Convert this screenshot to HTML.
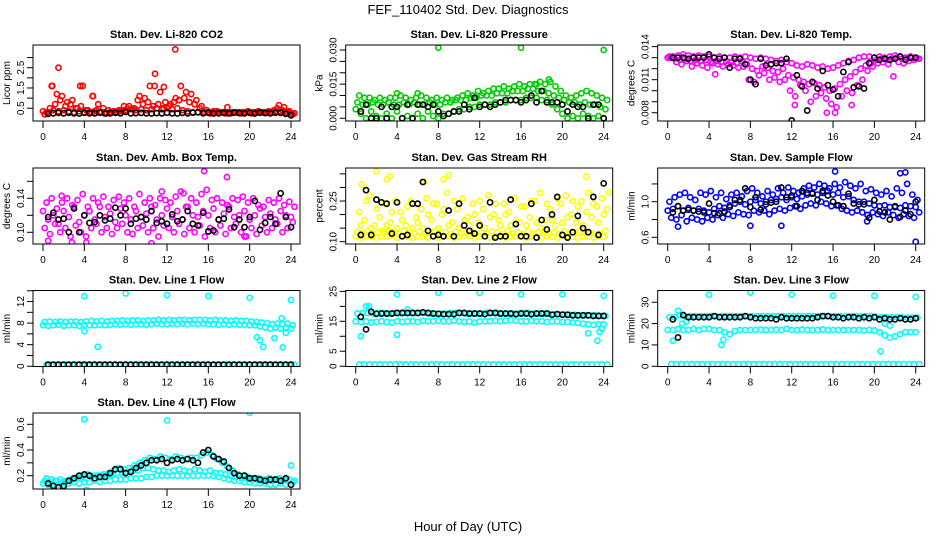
<!DOCTYPE html>
<html><head><meta charset="utf-8">
<style>
html,body{margin:0;padding:0;background:#fff;}
svg{display:block;font-family:"Liberation Sans",sans-serif;}
</style></head>
<body>
<svg id="c" width="936" height="540" viewBox="0 0 936 540">
<text x="468" y="14" text-anchor="middle" font-size="13">FEF_110402  Std. Dev. Diagnostics</text>
<text x="468" y="531" text-anchor="middle" font-size="13">Hour of Day (UTC)</text>
</svg>
<script>
const xTicks=[0,4,8,12,16,20,24];
const co2A=[0.35,0.3,0.4,0.35,0.4,0.35,0.3,0.35,0.3,0.3,0.35,0.3,0.3,0.3,0.3,0.35,0.4,0.45,0.4,0.45,0.4,0.45,0.5,0.45,0.5,0.45,0.5,0.4,0.35,0.3,0.3,0.3,0.3,0.35,0.3,0.3,0.3,0.3,0.3,0.3,0.3,0.3,0.3,0.3,0.3,0.35,0.35,0.3,0.25];
const co2B=[0.2,0.5,0.7,0.9,0.6,0.7,0.5,0.6,0.4,0.3,0.4,0.3,0.25,0.3,0.3,0.4,0.5,0.45,0.9,0.7,0.8,0.6,0.7,0.5,0.6,0.8,0.9,1.0,0.8,0.7,0.5,0.3,0.25,0.3,0.3,0.25,0.25,0.3,0.25,0.3,0.25,0.3,0.3,0.3,0.3,0.5,0.4,0.3,0.2];
const co2C=[0.3,1.6,1.2,1.1,0.8,0.9,0.5,1.6,0.4,1.1,0.7,0.5,0.4,0.35,0.4,0.6,0.6,0.5,1.1,1.0,1.6,2.2,1.3,0.8,0.7,1.0,1.6,1.3,1.2,0.9,0.6,0.4,0.3,0.35,0.3,0.55,0.3,0.3,0.3,0.35,0.3,0.35,0.3,0.35,0.4,0.65,0.55,0.35,0.25];
const co2OutX=[1.5,12.8,0.9,3.6,4.8,10.8,11.7];
const co2OutY=[2.5,3.4,1.6,1.6,1.1,1.6,1.55];
const co2Black=[0.22,0.25,0.27,0.25,0.28,0.25,0.24,0.27,0.25,0.25,0.28,0.24,0.25,0.27,0.25,0.32,0.25,0.26,0.27,0.25,0.24,0.26,0.25,0.28,0.25,0.24,0.27,0.25,0.28,0.3,0.25,0.28,0.24,0.25,0.27,0.25,0.28,0.26,0.25,0.28,0.24,0.28,0.26,0.25,0.28,0.27,0.22,0.15];

const prA=[0.004,0.002,0,0.003,0.001,0,0.002,0,0.003,0,0.001,0,0.002,0,0.003,0.001,0,0.002,0.002,0.003,0.004,0.004,0.005,0.005,0.006,0.006,0.006,0.007,0.007,0.007,0.008,0.008,0.008,0.009,0.009,0.009,0.008,0.008,0.006,0.004,0.002,0,0.001,0,0.002,0.001,0,0.001,0];
const prB=[0.007,0.006,0.006,0.007,0.006,0.006,0.007,0.006,0.006,0.007,0.006,0.007,0.006,0.006,0.007,0.006,0.006,0.007,0.007,0.008,0.008,0.008,0.009,0.009,0.01,0.01,0.01,0.011,0.011,0.011,0.012,0.012,0.012,0.013,0.013,0.012,0.012,0.011,0.01,0.009,0.008,0.007,0.007,0.006,0.007,0.006,0.006,0.005,0.004];
const prC=[0.01,0.009,0.009,0.008,0.009,0.008,0.009,0.009,0.01,0.009,0.008,0.009,0.01,0.009,0.008,0.009,0.008,0.009,0.008,0.009,0.01,0.011,0.01,0.012,0.011,0.012,0.013,0.013,0.014,0.013,0.014,0.015,0.014,0.015,0.015,0.016,0.015,0.016,0.014,0.012,0.01,0.009,0.01,0.011,0.012,0.011,0.01,0.009,0.008];
const prOutX=[8,16,24,18.7,17.5,4,6];
const prOutY=[0.031,0.031,0.030,0.017,0.015,0.011,0.011];
const prBlack=[0.003,0.006,0,0,0.005,0,0.005,0.005,0,0.006,0,0.006,0.006,0.005,0.006,0.003,0.001,0.002,0.003,0.003,0.006,0.004,0.009,0.005,0.006,0.005,0.006,0.007,0.008,0.008,0.008,0.007,0.008,0.01,0.007,0.012,0.007,0.007,0.007,0.006,0.003,0.006,0.005,0.005,0,0.006,0.006,0];

const tpA=[0.013,0.0131,0.0132,0.0133,0.0132,0.0131,0.0132,0.0131,0.0131,0.013,0.0131,0.013,0.013,0.0131,0.013,0.0131,0.013,0.0129,0.013,0.0129,0.0128,0.0127,0.0128,0.0126,0.0125,0.0123,0.0122,0.0124,0.0123,0.0121,0.0122,0.012,0.0121,0.0123,0.0125,0.0127,0.0128,0.013,0.0131,0.0131,0.013,0.0131,0.013,0.0131,0.0132,0.0131,0.013,0.0131,0.013];
const tpB=[0.0131,0.0129,0.0128,0.0129,0.0127,0.0128,0.0127,0.0128,0.0126,0.0127,0.0126,0.0127,0.0126,0.0125,0.0127,0.0124,0.012,0.0118,0.0122,0.0121,0.0118,0.0117,0.012,0.0114,0.0112,0.011,0.0108,0.0106,0.0107,0.0105,0.0103,0.01,0.0102,0.0106,0.011,0.0113,0.0117,0.012,0.0123,0.0125,0.0128,0.0129,0.0128,0.0129,0.013,0.0129,0.0129,0.013,0.0129];
const tpC=[0.013,0.0126,0.0124,0.0127,0.0122,0.0125,0.0123,0.0121,0.0125,0.0124,0.0122,0.0124,0.0123,0.0121,0.0122,0.011,0.0108,0.0114,0.0116,0.011,0.0112,0.0108,0.011,0.01,0.0095,0.0105,0.01,0.009,0.0095,0.0098,0.0093,0.0088,0.0085,0.0095,0.01,0.0098,0.0105,0.011,0.0118,0.0122,0.0125,0.0126,0.0124,0.0113,0.0126,0.0125,0.0127,0.0128,0.0129];
const tpOutX=[15.4,16.2,12.3,17.8,4.6];
const tpOutY=[0.008,0.008,0.0087,0.0087,0.0115];
const tpBlack=[0.013,0.013,0.013,0.0129,0.013,0.013,0.013,0.0133,0.013,0.0129,0.013,0.0121,0.0129,0.0129,0.0124,0.011,0.0106,0.0129,0.0123,0.0124,0.0125,0.0125,0.0129,0.0073,0.0114,0.0104,0.0082,0.0108,0.0102,0.0118,0.0105,0.0101,0.0095,0.0117,0.0126,0.0103,0.0104,0.0102,0.0125,0.013,0.0128,0.0129,0.0128,0.0129,0.0131,0.0128,0.013,0.013];

const abA=[0.125,0.115,0.12,0.11,0.125,0.118,0.13,0.112,0.12,0.125,0.115,0.13,0.118,0.122,0.112,0.128,0.12,0.115,0.125,0.118,0.122,0.13,0.115,0.12,0.128,0.118,0.125,0.115,0.13,0.12,0.118,0.125,0.12,0.128,0.115,0.122,0.13,0.118,0.12,0.125,0.115,0.12,0.128,0.118,0.122,0.115,0.125,0.12,0.118];
const abB=[0.105,0.098,0.11,0.1,0.105,0.095,0.108,0.1,0.095,0.105,0.11,0.1,0.105,0.098,0.105,0.11,0.1,0.098,0.105,0.108,0.1,0.105,0.095,0.108,0.105,0.1,0.11,0.098,0.105,0.1,0.108,0.095,0.105,0.1,0.108,0.098,0.105,0.11,0.1,0.095,0.105,0.098,0.108,0.1,0.105,0.11,0.1,0.105,0.112];
const abC=[0.135,0.14,0.128,0.135,0.14,0.132,0.138,0.145,0.13,0.14,0.135,0.142,0.13,0.138,0.142,0.135,0.14,0.13,0.145,0.135,0.14,0.132,0.14,0.138,0.135,0.142,0.148,0.13,0.14,0.135,0.145,0.15,0.138,0.14,0.135,0.132,0.14,0.138,0.142,0.135,0.14,0.132,0.13,0.138,0.135,0.14,0.132,0.136,0.13];
const abOutX=[15.6,17.8,1.8,11.5,13.6,0.5,2.8,10.5,4.2,19.5];
const abOutY=[0.172,0.165,0.143,0.148,0.146,0.09,0.088,0.087,0.088,0.095];
const abBlack=[0.118,0.123,0.115,0.116,0.1,0.128,0.1,0.12,0.111,0.112,0.12,0.114,0.116,0.129,0.12,0.128,0.11,0.116,0.118,0.115,0.125,0.111,0.113,0.11,0.121,0.113,0.115,0.125,0.11,0.108,0.123,0.101,0.102,0.115,0.116,0.127,0.106,0.115,0.106,0.118,0.137,0.103,0.111,0.118,0.11,0.146,0.118,0.106];

const rhA=[0.12,0.115,0.12,0.118,0.115,0.12,0.118,0.122,0.115,0.12,0.118,0.115,0.12,0.118,0.115,0.122,0.115,0.118,0.12,0.115,0.118,0.122,0.12,0.115,0.118,0.12,0.115,0.12,0.118,0.115,0.12,0.118,0.122,0.115,0.12,0.118,0.115,0.12,0.118,0.115,0.122,0.12,0.118,0.115,0.12,0.118,0.115,0.12,0.118];
const rhB=[0.135,0.13,0.14,0.128,0.135,0.13,0.14,0.135,0.128,0.14,0.135,0.13,0.138,0.128,0.135,0.14,0.13,0.135,0.128,0.138,0.13,0.135,0.14,0.128,0.135,0.13,0.138,0.135,0.128,0.14,0.13,0.135,0.128,0.138,0.13,0.135,0.14,0.13,0.135,0.128,0.138,0.13,0.135,0.14,0.13,0.135,0.128,0.13,0.14];
const rhC=[0.21,0.18,0.27,0.16,0.19,0.24,0.17,0.25,0.21,0.16,0.25,0.19,0.22,0.26,0.18,0.24,0.2,0.28,0.17,0.22,0.26,0.19,0.24,0.17,0.22,0.27,0.2,0.18,0.24,0.21,0.26,0.17,0.23,0.19,0.25,0.28,0.18,0.22,0.16,0.24,0.27,0.2,0.17,0.25,0.21,0.19,0.23,0.26,0.22];
const rhD=[0.16,0.25,0.15,0.22,0.14,0.16,0.21,0.15,0.18,0.23,0.15,0.17,0.15,0.2,0.24,0.15,0.22,0.16,0.25,0.15,0.18,0.16,0.2,0.25,0.15,0.19,0.24,0.16,0.2,0.16,0.18,0.23,0.16,0.25,0.17,0.15,0.24,0.18,0.26,0.17,0.19,0.25,0.23,0.16,0.28,0.24,0.17,0.2,0.28];
const rhOutX=[2,3.3,9,22.3,0.6,6.6,3,8.5];
const rhOutY=[0.36,0.34,0.345,0.34,0.31,0.32,0.33,0.33];
const rhBlack=[0.125,0.29,0.125,0.255,0.245,0.24,0.13,0.245,0.12,0.125,0.24,0.24,0.32,0.14,0.12,0.125,0.12,0.215,0.12,0.24,0.16,0.14,0.13,0.16,0.12,0.245,0.115,0.12,0.12,0.255,0.165,0.12,0.12,0.24,0.115,0.18,0.145,0.2,0.265,0.125,0.115,0.135,0.195,0.15,0.135,0.265,0.125,0.315];

const sfA=[0.9,0.92,0.95,0.9,0.93,0.9,0.92,0.9,0.88,0.92,0.95,0.93,0.96,0.98,1,0.97,1,1.02,0.98,1,1.02,1.03,1.05,1.02,1.05,1.03,1.06,1.08,1.1,1.08,1.1,1.12,1.08,1.1,1.05,1.06,1.02,1,1,0.98,0.96,0.95,0.96,0.94,0.95,0.93,0.96,0.95,0.94];
const sfB=[1,1.05,1.08,1.1,1.05,1.02,1.1,1.08,1.12,1.05,1.1,1.03,1.08,1.1,1.06,1.12,1.15,1.1,1.06,1.12,1.08,1.15,1.1,1.16,1.12,1.1,1.15,1.18,1.16,1.2,1.18,1.15,1.2,1.16,1.22,1.18,1.15,1.2,1.12,1.14,1.1,1.08,1.12,1.06,1.15,1.1,1.2,1.08,1.02];
const sfC=[0.82,0.8,0.85,0.78,0.82,0.8,0.78,0.82,0.8,0.85,0.82,0.86,0.84,0.88,0.86,0.85,0.9,0.88,0.9,0.86,0.9,0.92,0.9,0.93,0.95,0.92,0.96,0.98,0.96,1,0.98,0.95,0.96,0.92,0.9,0.88,0.9,0.88,0.85,0.88,0.86,0.84,0.88,0.85,0.82,0.86,0.84,0.82,0.88];
const sfOutX=[24,16.2,22.5,23,1,8,11,19.3];
const sfOutY=[0.55,1.34,1.32,1.33,0.72,0.73,0.73,0.78];
const sfBlack=[0.88,0.95,0.9,0.91,0.9,0.89,0.88,0.98,0.87,0.87,0.89,0.94,1.02,1.02,1.15,0.94,1.05,0.91,0.97,0.99,1,1.16,1.05,1.07,0.95,1.12,1.1,1.09,1.02,1.12,1.07,1,0.96,0.95,1.09,0.98,0.97,0.97,0.82,1.02,0.89,0.88,0.8,0.94,0.83,0.9,0.86,1];

const l1A=[7.6,7.5,7.6,7.7,7.5,7.6,7.6,7.5,7.7,7.6,7.6,7.7,7.6,7.7,7.8,7.7,7.8,7.7,7.8,7.8,7.7,7.8,7.9,7.8,7.8,7.9,7.8,7.9,7.8,7.9,7.8,7.9,7.8,7.8,7.7,7.8,7.7,7.8,7.7,7.7,7.6,7.6,7.4,7.2,7,7.2,7,7.2,7];
const l1B=[8.2,8.3,8.2,8.3,8.2,8.3,8.3,8.2,8.3,8.4,8.3,8.4,8.3,8.4,8.4,8.5,8.4,8.5,8.5,8.4,8.5,8.5,8.6,8.5,8.6,8.5,8.6,8.6,8.5,8.6,8.6,8.6,8.5,8.6,8.5,8.5,8.4,8.5,8.4,8.4,8.3,8.2,8.1,8,7.8,7.9,7.8,7.9,7.6];
const l1Z=[0.3,0.3,0.3,0.3,0.3,0.3,0.3,0.3,0.3,0.3,0.3,0.3,0.3,0.3,0.3,0.3,0.3,0.3,0.3,0.3,0.3,0.3,0.3,0.3,0.3,0.3,0.3,0.3,0.3,0.3,0.3,0.3,0.3,0.3,0.3,0.3,0.3,0.3,0.3,0.3,0.3,0.3,0.3,0.3,0.3,0.3,0.3,0.3,0.3];
const l1OutX=[4,8,12,16,20,24,4,5.3,20.7,21,21.3,22.4,23.1,23.2,23.5];
const l1OutY=[13,13.5,13.2,13,12.7,12.3,6.5,3.6,5.4,4.8,3.6,5.2,8.9,3.5,6.2];
const l1Black=[0.3,0.3,0.3,0.3,0.3,0.3,0.3,0.3,0.3,0.3,0.3,0.3,0.3,0.3,0.3,0.3,0.3,0.3,0.3,0.3,0.3,0.3,0.3,0.3,0.3,0.3,0.3,0.3,0.3,0.3,0.3,0.3,0.3,0.3,0.3,0.3,0.3,0.3,0.3,0.3,0.3,0.3,0.3,0.3,0.3,0.3,0.3,0.3];

const l2A=[15,14.8,15,14.6,14.8,15,14.8,14.6,15,14.8,15,15,14.8,15.2,15,15,15.2,15,15,15.2,15,14.8,15,14.6,15,15,15,15.2,15,15.2,15.4,15.2,15,15,15.2,15,15,14.8,15,15,14.8,14.8,14.6,14.5,14.2,14,13.8,14,14];
const l2B=[17.6,17.8,17.8,17.6,17.8,17.8,17.6,17.8,17.8,17.8,17.8,17.8,17.8,17.8,17.6,17.6,17.6,17.6,17.8,17.8,17.8,17.6,17.6,17.6,17.6,17.8,17.8,17.8,17.6,17.6,17.6,17.6,17.8,17.8,17.6,17.6,17.6,17.6,17.4,17.4,17.4,17.2,17.2,17,17,17,17,16.8,16.8];
const l2Z=[0.6,0.6,0.6,0.6,0.6,0.6,0.6,0.6,0.6,0.6,0.6,0.6,0.6,0.6,0.6,0.6,0.6,0.6,0.6,0.6,0.6,0.6,0.6,0.6,0.6,0.6,0.6,0.6,0.6,0.6,0.6,0.6,0.6,0.6,0.6,0.6,0.6,0.6,0.6,0.6,0.6,0.6,0.6,0.6,0.6,0.6,0.6,0.6,0.6];
const l2OutX=[4,8,12,16,20,24,0.5,4,22.5,23.4,23.6,23.8,1,1.3,5];
const l2OutY=[24,24.5,24.5,24,24,23.5,10,10.5,11,8.5,11.5,12.5,20,20,19];
const l2Black=[16.5,12.3,18.2,17.5,17.6,17.6,17.6,17.8,17.8,17.8,17.8,17.8,18,17.8,17.6,17.5,17.4,17.4,17.4,17.8,17.8,17.6,17.6,17.6,17.4,17.8,17.8,17.6,17.6,17.6,17.4,17.6,17.6,17.4,17.6,17.6,17.6,17.2,17.4,17.2,17.2,17,17,17,17,16.8,16.8,16.8];

const l3A=[17,17,17.5,17,17,17.5,17,17.5,17.5,17,17,16,15,16.5,17,17,17,17,17.2,17,17,17.2,17,17.5,17,17,17.2,17,17,17,17.2,17,17,17,17,17,17,17,16.8,17,16.8,16,14.5,13.5,14,15,16,16,16];
const l3B=[23,23,24,23.5,23.5,23.5,23.5,23.5,23.5,23.5,23.5,23.5,23.5,23.5,23.5,23.5,23.5,23.5,23.5,23.5,23.5,23.5,23.5,23.5,23.5,23.5,23.5,23.5,23.5,23.5,23.5,23.5,23.5,23.5,23.5,23.5,23.5,23.5,23.5,23.5,23.2,23,23,23,23,23,22.8,22.8,22.8];
const l3Z=[1,1,1,1,1,1,1,1,1,1,1,1,1,1,1,1,1,1,1,1,1,1,1,1,1,1,1,1,1,1,1,1,1,1,1,1,1,1,1,1,1,1,1,1,1,1,1,1,1];
const l3OutX=[4,8,12,16,20,24,0.5,1,5.2,5.4,20.6,1.4,1.8,21,21.5];
const l3OutY=[33.5,34.5,33.5,33,33,32.5,12,26,10,12.5,7,20,21,20,19];
const l3Black=[22,13.5,24,23,23,23,23,23,23.5,23,23,23,23,23,23.5,23,22.5,22.5,22.5,22.5,22,23,22.5,22.5,22.5,22.5,22.5,22.5,23,23.5,23.5,23,23,22.5,23,23,22.5,23,22.5,23,22,22.5,22,22,22.5,22,22,22.5];

const l4A=[0.14,0.13,0.14,0.13,0.14,0.14,0.15,0.14,0.15,0.15,0.16,0.15,0.16,0.16,0.17,0.17,0.17,0.18,0.18,0.18,0.19,0.19,0.2,0.2,0.2,0.2,0.2,0.2,0.2,0.2,0.2,0.2,0.2,0.2,0.19,0.18,0.17,0.16,0.16,0.15,0.15,0.14,0.14,0.14,0.13,0.13,0.14,0.13,0.13];
const l4B=[0.16,0.15,0.16,0.17,0.16,0.17,0.18,0.19,0.18,0.19,0.2,0.2,0.21,0.21,0.22,0.22,0.23,0.24,0.24,0.26,0.26,0.25,0.24,0.24,0.23,0.24,0.25,0.24,0.23,0.25,0.24,0.23,0.24,0.22,0.22,0.21,0.2,0.19,0.18,0.18,0.17,0.17,0.16,0.16,0.16,0.17,0.16,0.16,0.15];
const l4C=[0.18,0.17,0.16,0.15,0.16,0.17,0.19,0.2,0.21,0.2,0.2,0.21,0.22,0.24,0.26,0.25,0.26,0.28,0.3,0.32,0.34,0.33,0.35,0.34,0.33,0.35,0.34,0.33,0.34,0.34,0.36,0.38,0.36,0.33,0.3,0.27,0.24,0.21,0.2,0.19,0.18,0.18,0.17,0.18,0.17,0.18,0.17,0.17,0.16];
const l4OutX=[4,12,20,24,1,4.2];
const l4OutY=[0.64,0.63,0.69,0.28,0.09,0.09];
const l4Black=[0.14,0.12,0.11,0.12,0.16,0.18,0.2,0.21,0.2,0.18,0.19,0.19,0.22,0.25,0.25,0.22,0.23,0.26,0.28,0.3,0.32,0.32,0.33,0.3,0.32,0.33,0.32,0.33,0.32,0.3,0.38,0.4,0.35,0.33,0.31,0.26,0.22,0.2,0.2,0.18,0.18,0.17,0.16,0.17,0.17,0.16,0.18,0.13];

const panels=[
 {name:'co2',title:'Stan. Dev. Li-820 CO2',yl:'Licor ppm',col:0,row:0,ymin:-0.13,ymax:3.62,ticks:[0.5,1,1.5,2,2.5,3],labels:[0.5,1.5,2.5],fmt:v=>v.toFixed(1),color:'#ff0000',rows:[co2A,co2B,co2C],ox:co2OutX,oy:co2OutY,black:co2Black},
 {name:'pressure',title:'Stan. Dev. Li-820 Pressure',yl:'kPa',col:1,row:0,ymin:-0.0012,ymax:0.0322,ticks:[0,0.005,0.01,0.015,0.02,0.025,0.03],labels:[0,0.015,0.03],fmt:v=>v.toFixed(3),color:'#00cd00',rows:[prA,prB,prC],ox:prOutX,oy:prOutY,black:prBlack},
 {name:'li820-temp',title:'Stan. Dev. Li-820 Temp.',yl:'degrees C',col:2,row:0,ymin:0.00725,ymax:0.01415,ticks:[0.008,0.009,0.01,0.011,0.012,0.013,0.014],labels:[0.008,0.011,0.014],fmt:v=>v.toFixed(3),color:'#ff00ff',rows:[tpA,tpB,tpC],ox:tpOutX,oy:tpOutY,black:tpBlack},
 {name:'amb-box-temp',title:'Stan. Dev. Amb. Box Temp.',yl:'degrees C',col:0,row:1,ymin:0.0862,ymax:0.1757,ticks:[0.1,0.12,0.14,0.16],labels:[0.1,0.14],fmt:v=>v.toFixed(2),color:'#ff00ff',rows:[abA,abB,abC],ox:abOutX,oy:abOutY,black:abBlack},
 {name:'gas-stream-rh',title:'Stan. Dev. Gas Stream RH',yl:'percent',col:1,row:1,ymin:0.0915,ymax:0.3716,ticks:[0.1,0.15,0.2,0.25,0.3,0.35],labels:[0.1,0.25],fmt:v=>v.toFixed(2),color:'#ffff00',rows:[rhA,rhB,rhC,rhD],ox:rhOutX,oy:rhOutY,black:rhBlack},
 {name:'sample-flow',title:'Stan. Dev. Sample Flow',yl:'ml/min',col:2,row:1,ymin:0.525,ymax:1.379,ticks:[0.6,0.8,1,1.2],labels:[0.6,1],fmt:v=>v.toFixed(1),color:'#0000ff',rows:[sfA,sfB,sfC],ox:sfOutX,oy:sfOutY,black:sfBlack},
 {name:'line1-flow',title:'Stan. Dev. Line 1 Flow',yl:'ml/min',col:0,row:2,ymin:-0.05,ymax:14.05,ticks:[0,2,4,6,8,10,12,14],labels:[0,4,8,12],fmt:v=>String(v),color:'#00ffff',rows:[l1A,l1B,l1Z],ox:l1OutX,oy:l1OutY,black:l1Black},
 {name:'line2-flow',title:'Stan. Dev. Line 2 Flow',yl:'ml/min',col:1,row:2,ymin:-0.1,ymax:25.3,ticks:[0,5,10,15,20,25],labels:[0,5,15,25],fmt:v=>String(v),color:'#00ffff',rows:[l2A,l2B,l2Z],ox:l2OutX,oy:l2OutY,black:l2Black},
 {name:'line3-flow',title:'Stan. Dev. Line 3 Flow',yl:'ml/min',col:2,row:2,ymin:-0.1,ymax:35.5,ticks:[0,10,20,30],labels:[0,10,20,30],fmt:v=>String(v),color:'#00ffff',rows:[l3A,l3B,l3Z],ox:l3OutX,oy:l3OutY,black:l3Black},
 {name:'line4-flow',title:'Stan. Dev. Line 4 (LT) Flow',yl:'ml/min',col:0,row:3,ymin:0.0965,ymax:0.688,ticks:[0.2,0.3,0.4,0.5,0.6],labels:[0.2,0.4,0.6],fmt:v=>v.toFixed(1),color:'#00ffff',rows:[l4A,l4B,l4C],ox:l4OutX,oy:l4OutY,black:l4Black}
];

const NS='http://www.w3.org/2000/svg';
const svg=document.getElementById('c');
function mk(tag,attrs,parent){const e=document.createElementNS(NS,tag);for(const k in attrs)e.setAttribute(k,attrs[k]);(parent||svg).appendChild(e);return e;}
const colX0=[43,355.7,667.7], rowTop=[45,168,290.5,413], H=76, W=248;

panels.forEach(p=>{
  const g=mk('g',{});
  
  
  const x0=colX0[p.col], top=rowTop[p.row], bot=top+H;
  const L=x0-10, R=x0+W+9;
  const xs=h=>x0+h/24*W;
  const ys=v=>bot-(v-p.ymin)/(p.ymax-p.ymin)*H;
  const t=mk('text',{x:(L+R)/2,y:top-7,'text-anchor':'middle','font-size':11,'font-weight':'bold'},g);
  t.textContent=p.title;
  
  
  const yl=mk('text',{x:0,y:0,'text-anchor':'middle','font-size':10,transform:`translate(${L-23},${(top+bot)/2}) rotate(-90)`},g);
  yl.textContent=p.yl;
  
  
  const cp=mk('clipPath',{id:'cp'+p.name},g);
  mk('rect',{x:L,y:top,width:R-L,height:H},cp);
  const pts=mk('g',{'clip-path':`url(#cp${p.name})`,fill:'none','stroke-width':1.6},g);
  
  
  p.rows.forEach((arr,ri)=>{
    arr.forEach((v,i)=>{
      const c=mk('circle',{cx:xs(i*0.5+ri*0.17),cy:ys(v),r:2.6,stroke:p.color},pts);
      
      
    });
  });
  p.ox.forEach((h,i)=>{
    const c=mk('circle',{cx:xs(h),cy:ys(p.oy[i]),r:2.6,stroke:p.color},pts);
    
    
  });
  p.black.forEach((v,i)=>{
    const c=mk('circle',{cx:xs((i+1)*0.5),cy:ys(v),r:2.6,stroke:'#000'},pts);
    
    
  });
  const box=mk('rect',{x:L,y:top,width:R-L,height:H,fill:'none',stroke:'#000','stroke-width':1},g);
  
  
  xTicks.forEach(h=>{
    mk('line',{x1:xs(h),x2:xs(h),y1:bot,y2:bot+7,stroke:'#000'},g);
    const lt=mk('text',{x:xs(h),y:bot+19,'text-anchor':'middle','font-size':10},g);
    lt.textContent=h;
    
    
  });
  p.ticks.forEach(v=>{
    mk('line',{x1:L,x2:L-6,y1:ys(v),y2:ys(v),stroke:'#000'},g);
  });
  p.labels.forEach(v=>{
    const lt=mk('text',{x:0,y:0,'text-anchor':'middle','font-size':10,transform:`translate(${L-9},${ys(v)}) rotate(-90)`},g);
    lt.textContent=p.fmt(v);
    
    
  });
});
</script>
</body></html>
